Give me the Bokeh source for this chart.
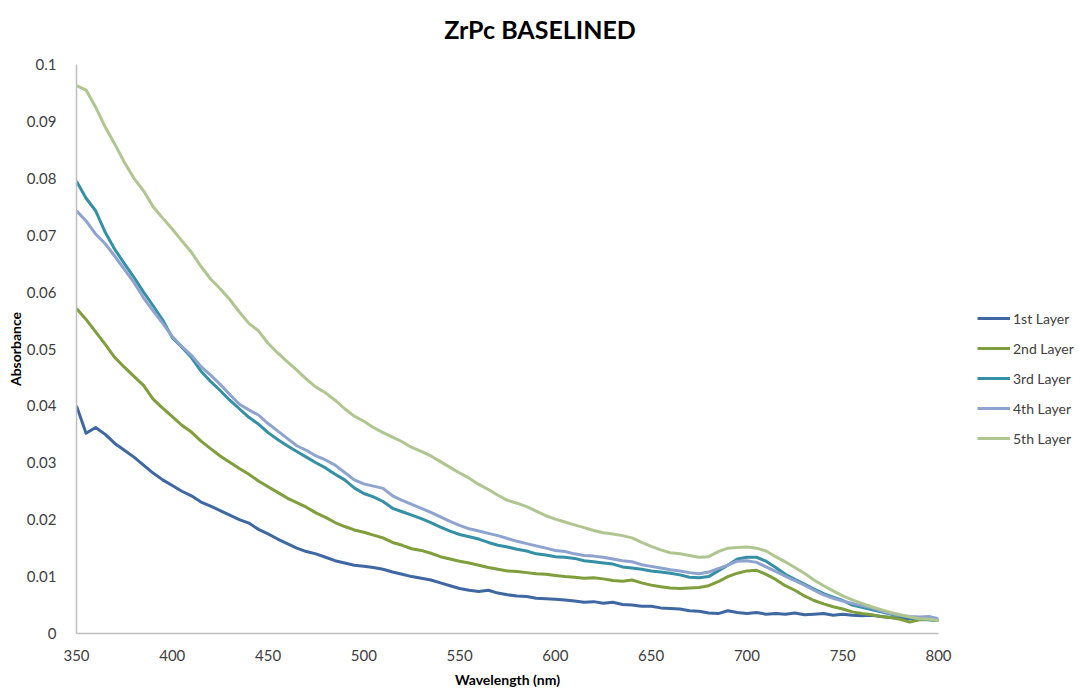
from bokeh.plotting import figure
from bokeh.layouts import row, column
from bokeh.models import Range1d, FixedTicker, Legend, LegendItem, Label
from bokeh.embed import file_html
from bokeh.resources import INLINE

# Wavelength grid (nm) shared by all spectra
wavelength = list(range(350, 801, 5))

layer1 = [
    0.0400, 0.0352, 0.0362, 0.0350, 0.0334, 0.0322, 0.0310, 0.0296, 0.0282, 0.0270,
    0.0260, 0.0250, 0.0242, 0.0231, 0.0224, 0.0216, 0.0208, 0.0200, 0.0194, 0.0183,
    0.0175, 0.0166, 0.0158, 0.0150, 0.0144, 0.0140, 0.0134, 0.0128, 0.0124, 0.0120,
    0.0118, 0.0116, 0.0113, 0.0108, 0.0104, 0.0100, 0.0097, 0.0094, 0.0089, 0.0084,
    0.0079, 0.0076, 0.0074, 0.0076, 0.0071, 0.0068, 0.0066, 0.0065, 0.0062, 0.0061,
    0.0060, 0.0059, 0.0057, 0.0055, 0.0056, 0.0053, 0.0055, 0.0051, 0.0050, 0.0048,
    0.0048, 0.0045, 0.0044, 0.0043, 0.0040, 0.0039, 0.0036, 0.0035, 0.0040, 0.0037,
    0.0035, 0.0037, 0.0034, 0.0035, 0.0034, 0.0036, 0.0033, 0.0034, 0.0035, 0.0032,
    0.0034, 0.0032, 0.0031, 0.0032, 0.0030, 0.0028, 0.0027, 0.0026, 0.0026, 0.0025,
    0.0025,
]

layer2 = [
    0.0571, 0.0552, 0.0530, 0.0508, 0.0485, 0.0468, 0.0452, 0.0436, 0.0412, 0.0396,
    0.0381, 0.0366, 0.0354, 0.0338, 0.0325, 0.0312, 0.0301, 0.0290, 0.0280, 0.0268,
    0.0258, 0.0248, 0.0238, 0.0230, 0.0222, 0.0212, 0.0204, 0.0195, 0.0188, 0.0182,
    0.0178, 0.0173, 0.0168, 0.0160, 0.0155, 0.0149, 0.0146, 0.0141, 0.0135, 0.0131,
    0.0127, 0.0124, 0.0120, 0.0116, 0.0113, 0.0110, 0.0109, 0.0107, 0.0105, 0.0104,
    0.0102, 0.0100, 0.0099, 0.0097, 0.0098, 0.0096, 0.0093, 0.0092, 0.0094, 0.0089,
    0.0085, 0.0082, 0.0080, 0.0079, 0.0080, 0.0081, 0.0084, 0.0091, 0.0100, 0.0106,
    0.0110, 0.0111, 0.0104, 0.0095, 0.0084, 0.0076, 0.0066, 0.0058, 0.0052, 0.0047,
    0.0043, 0.0038, 0.0035, 0.0033, 0.0030, 0.0028, 0.0025, 0.0020, 0.0024, 0.0024,
    0.0023,
]

layer3 = [
    0.0795, 0.0765, 0.0743, 0.0705, 0.0675, 0.0650, 0.0626, 0.0600, 0.0576, 0.0551,
    0.0520, 0.0503, 0.0485, 0.0461, 0.0443, 0.0427, 0.0410, 0.0395, 0.0380, 0.0368,
    0.0353, 0.0341, 0.0330, 0.0320, 0.0310, 0.0300, 0.0291, 0.0280, 0.0270, 0.0256,
    0.0246, 0.0240, 0.0232, 0.0220, 0.0214, 0.0208, 0.0202, 0.0195, 0.0187, 0.0180,
    0.0174, 0.0170, 0.0166, 0.0160, 0.0155, 0.0152, 0.0148, 0.0145, 0.0140, 0.0138,
    0.0135, 0.0134, 0.0132, 0.0128, 0.0126, 0.0124, 0.0122, 0.0117, 0.0115, 0.0113,
    0.0110, 0.0108, 0.0106, 0.0103, 0.0099, 0.0098, 0.0100, 0.0110, 0.0120, 0.0131,
    0.0134, 0.0134, 0.0127, 0.0116, 0.0104, 0.0095, 0.0087, 0.0078, 0.0070, 0.0064,
    0.0058, 0.0050, 0.0046, 0.0042, 0.0038, 0.0034, 0.0031, 0.0028, 0.0026, 0.0024,
    0.0023,
]

layer4 = [
    0.0743, 0.0725, 0.0702, 0.0685, 0.0663, 0.0640, 0.0617, 0.0590, 0.0567, 0.0545,
    0.0522, 0.0504, 0.0489, 0.0469, 0.0454, 0.0438, 0.0420, 0.0403, 0.0393, 0.0384,
    0.0369, 0.0356, 0.0343, 0.0330, 0.0322, 0.0312, 0.0305, 0.0296, 0.0283, 0.0270,
    0.0263, 0.0259, 0.0255, 0.0242, 0.0234, 0.0227, 0.0220, 0.0213, 0.0205, 0.0197,
    0.0190, 0.0184, 0.0180, 0.0176, 0.0172, 0.0167, 0.0162, 0.0158, 0.0154, 0.0150,
    0.0146, 0.0144, 0.0140, 0.0137, 0.0136, 0.0134, 0.0131, 0.0128, 0.0126, 0.0121,
    0.0118, 0.0115, 0.0112, 0.0110, 0.0107, 0.0105, 0.0108, 0.0114, 0.0120, 0.0127,
    0.0128, 0.0125, 0.0117, 0.0109, 0.0101, 0.0093, 0.0085, 0.0076, 0.0068, 0.0062,
    0.0057, 0.0053, 0.0049, 0.0045, 0.0040, 0.0035, 0.0032, 0.0030, 0.0029, 0.0030,
    0.0026,
]

layer5 = [
    0.0963, 0.0955, 0.0925, 0.0890, 0.0860, 0.0828, 0.0800, 0.0778, 0.0750, 0.0730,
    0.0711, 0.0690, 0.0670, 0.0645, 0.0623, 0.0606, 0.0587, 0.0565, 0.0545, 0.0532,
    0.0510, 0.0493, 0.0478, 0.0463, 0.0447, 0.0433, 0.0423, 0.0410, 0.0395, 0.0382,
    0.0373, 0.0362, 0.0353, 0.0345, 0.0337, 0.0327, 0.0320, 0.0312, 0.0302, 0.0292,
    0.0282, 0.0273, 0.0262, 0.0253, 0.0243, 0.0234, 0.0229, 0.0223, 0.0215, 0.0207,
    0.0201, 0.0196, 0.0191, 0.0186, 0.0181, 0.0177, 0.0175, 0.0172, 0.0168, 0.0160,
    0.0153, 0.0147, 0.0142, 0.0140, 0.0137, 0.0134, 0.0135, 0.0144, 0.0150, 0.0151,
    0.0152, 0.0150, 0.0145, 0.0135, 0.0126, 0.0116, 0.0106, 0.0094, 0.0084, 0.0075,
    0.0066, 0.0059, 0.0053, 0.0047, 0.0042, 0.0037, 0.0033, 0.0029, 0.0026, 0.0025,
    0.0023,
]

series_names = ["1st Layer", "2nd Layer", "3rd Layer", "4th Layer", "5th Layer"]
series_values = [layer1, layer2, layer3, layer4, layer5]
series_colors = ["#3F68A3", "#7F9E3C", "#3590A6", "#8EA3CE", "#AFC690"]

x_ticks = [350, 400, 450, 500, 550, 600, 650, 700, 750, 800]
y_ticks = [0, 0.01, 0.02, 0.03, 0.04, 0.05, 0.06, 0.07, 0.08, 0.09, 0.1]
y_tick_labels = ["0", "0.01", "0.02", "0.03", "0.04", "0.05", "0.06", "0.07", "0.08", "0.09", "0.1"]

FONT = "Lato"
TEXT = "#404040"
AXIS_GREY = "#BFBFBF"
LINE_W = 3

# Title strip across the top; its x range is in canvas pixels (frame 76..938)
head = figure(
    width=959, height=50,
    output_backend="svg", toolbar_location=None,
    x_range=Range1d(76, 938), y_range=Range1d(0, 50),
    min_border_left=76, min_border_right=21, min_border_top=0, min_border_bottom=0,
)
head.axis.visible = False
head.grid.visible = False
head.outline_line_color = None
head.add_layout(Label(
    x=539.5, y=22, text="ZrPc BASELINED",
    text_align="center", text_baseline="middle",
    text_font=FONT, text_font_size="25px", text_font_style="bold",
    text_color="#000000",
))

# Main chart: frame spans x 76..938, y 64..633 of the page
p = figure(
    width=959, height=640,
    output_backend="svg", toolbar_location=None,
    x_range=Range1d(350, 800), y_range=Range1d(0, 0.1),
    min_border_left=76, min_border_right=21,
    min_border_top=14, min_border_bottom=57,
)
p.outline_line_color = None
p.grid.visible = False

p.xaxis.ticker = FixedTicker(ticks=x_ticks)
p.yaxis.ticker = FixedTicker(ticks=y_ticks)
p.yaxis.major_label_overrides = {t: s for t, s in zip(y_ticks, y_tick_labels)}

for ax in (p.xaxis, p.yaxis):
    ax.axis_line_color = AXIS_GREY
    ax.axis_line_width = 1.5
    ax.major_tick_line_color = None
    ax.minor_tick_line_color = None
    ax.major_label_text_font = FONT
    ax.major_label_text_font_size = "15px"
    ax.major_label_text_color = TEXT
    ax.axis_label_text_font = FONT
    ax.axis_label_text_font_size = "14px"
    ax.axis_label_text_font_style = "bold"
    ax.axis_label_text_color = "#000000"

p.xaxis.axis_label = "Wavelength (nm)"
p.yaxis.axis_label = "Absorbance"
p.xaxis.major_label_standoff = 10
p.yaxis.major_label_standoff = 14
p.xaxis.axis_label_standoff = 7
p.yaxis.axis_label_standoff = 0

for vals, col in zip(series_values, series_colors):
    p.line(wavelength, vals, line_color=col, line_width=LINE_W, line_join="round")

# Legend column to the right of the chart; its strokes sit outside its own view
lg = figure(
    width=120, height=640,
    output_backend="svg", toolbar_location=None,
    x_range=Range1d(0, 1), y_range=Range1d(0, 1),
    min_border=0,
)
lg.axis.visible = False
lg.grid.visible = False
lg.outline_line_color = None

items = []
for name, vals, col in zip(series_names, series_values, series_colors):
    r = lg.line(wavelength, vals, line_color=col, line_width=LINE_W)
    items.append(LegendItem(label=name, renderers=[r]))

legend = Legend(
    items=items,
    location=(18, 185),
    orientation="vertical",
    background_fill_alpha=0,
    border_line_color=None,
    padding=0, margin=0,
    spacing=10,
    glyph_width=33, glyph_height=20,
    label_height=20,
    label_standoff=3,
    label_text_font=FONT,
    label_text_font_size="14px",
    label_text_color=TEXT,
)
lg.add_layout(legend, "center")

layout = column(head, row(p, lg, spacing=0), spacing=0)

open("out.html", "w").write(file_html(layout, INLINE))
